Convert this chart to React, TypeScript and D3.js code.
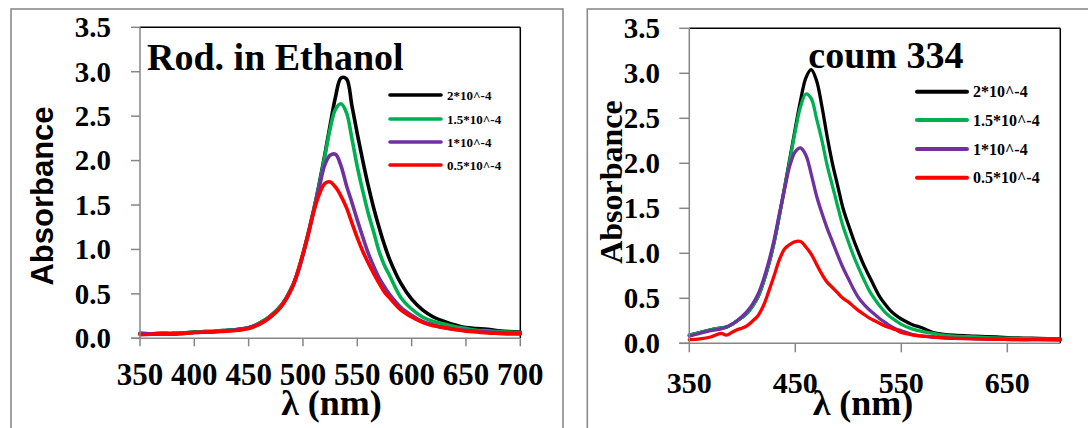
import React from "react";
import * as d3 from "d3";

// ---------- Rhodamine in ethanol ----------
const rodWavelengths = [350, 360, 370, 380, 390, 400, 410, 420, 430, 440, 450, 460, 470, 480, 490, 495, 500, 505, 510, 515, 520, 525, 530, 535, 540, 545, 550, 555, 560, 565, 570, 575, 580, 590, 600, 610, 620, 630, 640, 650, 660, 670, 680, 690, 700];
const rodConc2 = [0.05, 0.05, 0.055, 0.055, 0.06, 0.07, 0.075, 0.08, 0.09, 0.10, 0.12, 0.17, 0.25, 0.37, 0.58, 0.74, 0.95, 1.19, 1.45, 1.74, 2.06, 2.40, 2.72, 2.93, 2.92, 2.62, 2.30, 2.00, 1.72, 1.47, 1.25, 1.05, 0.88, 0.62, 0.44, 0.32, 0.24, 0.19, 0.15, 0.12, 0.11, 0.10, 0.085, 0.075, 0.07];
const rodConc15 = [0.05, 0.05, 0.055, 0.055, 0.06, 0.07, 0.075, 0.08, 0.09, 0.10, 0.12, 0.17, 0.25, 0.37, 0.58, 0.74, 0.95, 1.19, 1.45, 1.73, 2.04, 2.36, 2.58, 2.64, 2.54, 2.25, 1.93, 1.66, 1.41, 1.20, 0.98, 0.82, 0.70, 0.46, 0.33, 0.24, 0.19, 0.16, 0.13, 0.11, 0.09, 0.085, 0.075, 0.07, 0.065];
const rodConc1 = [0.06, 0.05, 0.05, 0.045, 0.055, 0.065, 0.07, 0.075, 0.085, 0.10, 0.12, 0.16, 0.24, 0.36, 0.57, 0.73, 0.94, 1.18, 1.44, 1.70, 1.95, 2.06, 2.07, 1.94, 1.72, 1.53, 1.33, 1.14, 0.96, 0.81, 0.68, 0.58, 0.49, 0.35, 0.26, 0.19, 0.15, 0.12, 0.10, 0.09, 0.08, 0.07, 0.065, 0.06, 0.055];
const rodConc05 = [0.04, 0.045, 0.05, 0.05, 0.055, 0.065, 0.07, 0.075, 0.08, 0.09, 0.11, 0.16, 0.24, 0.36, 0.57, 0.74, 0.95, 1.18, 1.43, 1.62, 1.74, 1.76, 1.70, 1.60, 1.47, 1.30, 1.13, 0.98, 0.85, 0.73, 0.62, 0.52, 0.45, 0.32, 0.24, 0.18, 0.14, 0.12, 0.10, 0.08, 0.07, 0.06, 0.055, 0.05, 0.05];

// ---------- Coumarin 334 ----------
const coumWavelengths = [350, 360, 370, 380, 385, 390, 395, 400, 405, 410, 415, 420, 425, 430, 435, 440, 445, 450, 455, 460, 465, 470, 475, 480, 485, 490, 495, 500, 505, 510, 515, 520, 525, 530, 535, 540, 545, 550, 560, 570, 580, 590, 600, 620, 640, 660, 680, 700];
const coumConc2 = [0.09, 0.12, 0.15, 0.17, 0.18, 0.21, 0.25, 0.29, 0.34, 0.42, 0.52, 0.68, 0.88, 1.12, 1.42, 1.74, 2.06, 2.39, 2.70, 2.95, 3.04, 2.92, 2.64, 2.30, 2.00, 1.75, 1.50, 1.32, 1.15, 1.00, 0.86, 0.74, 0.62, 0.51, 0.43, 0.36, 0.31, 0.27, 0.21, 0.17, 0.12, 0.10, 0.09, 0.08, 0.07, 0.06, 0.055, 0.05];
const coumConc15 = [0.09, 0.12, 0.15, 0.17, 0.18, 0.21, 0.25, 0.29, 0.34, 0.42, 0.52, 0.68, 0.88, 1.12, 1.42, 1.73, 2.04, 2.36, 2.63, 2.77, 2.72, 2.50, 2.26, 1.98, 1.75, 1.52, 1.30, 1.13, 0.97, 0.83, 0.70, 0.58, 0.49, 0.41, 0.34, 0.29, 0.25, 0.21, 0.16, 0.13, 0.11, 0.09, 0.08, 0.07, 0.06, 0.055, 0.05, 0.045];
const coumConc1 = [0.08, 0.11, 0.14, 0.16, 0.18, 0.21, 0.25, 0.30, 0.36, 0.44, 0.55, 0.71, 0.91, 1.15, 1.44, 1.72, 1.98, 2.13, 2.17, 2.09, 1.88, 1.64, 1.45, 1.28, 1.13, 0.98, 0.84, 0.72, 0.60, 0.50, 0.43, 0.37, 0.32, 0.27, 0.23, 0.19, 0.16, 0.14, 0.10, 0.08, 0.07, 0.06, 0.055, 0.05, 0.045, 0.04, 0.04, 0.035];
const coumConc05 = [0.04, 0.05, 0.07, 0.11, 0.09, 0.12, 0.15, 0.17, 0.20, 0.25, 0.31, 0.42, 0.58, 0.75, 0.93, 1.05, 1.10, 1.13, 1.13, 1.07, 0.99, 0.88, 0.77, 0.68, 0.62, 0.56, 0.50, 0.46, 0.41, 0.36, 0.32, 0.28, 0.25, 0.22, 0.19, 0.17, 0.15, 0.12, 0.095, 0.08, 0.07, 0.06, 0.055, 0.05, 0.045, 0.04, 0.04, 0.04];

// ---------- shared labels / ticks ----------
const seriesLabels = ["2*10^-4", "1.5*10^-4", "1*10^-4", "0.5*10^-4"];
const seriesColors = ["#000000", "#00b050", "#7030a0", "#ff0000"];
const yTicks = [0, 0.5, 1.0, 1.5, 2.0, 2.5, 3.0, 3.5];
const rodXTicks = [350, 400, 450, 500, 550, 600, 650, 700];
const coumXTicks = [350, 450, 550, 650];

const SERIF = "'Liberation Serif', 'Times New Roman', serif";
const SANS = "'Liberation Sans', Arial, sans-serif";
const AXIS_GREY = "#868686";

type PanelProps = {
  title: string;
  wavelengths: number[];
  series: number[][];
  xTicks: number[];
  layout: {
    box: [number, number, number, number];
    x: [number, number];
    y: [number, number];
    yTickLen: number;
    xTickLen: number;
    yLabelX: number;
    yLabelSize: number;
    xLabelY: number;
    xLabelSize: number;
    titleX: number;
    titleY: number;
    titleSize: number;
    yTitle: { x: number; y: number; size: number; font: string };
    xTitle: { x: number; y: number; size: number };
    legend: { x0: number; x1: number; tx: number; rows: number[]; size: number; stroke: number };
    lineWidth: number;
  };
};

function Panel({ title, wavelengths, series, xTicks, layout: L }: PanelProps) {
  const x = d3.scaleLinear().domain([350, 700]).range(L.x);
  const y = d3.scaleLinear().domain([0, 3.5]).range(L.y);
  const line = d3
    .line<[number, number]>()
    .x((d) => x(d[0]))
    .y((d) => y(d[1]))
    .curve(d3.curveCatmullRom.alpha(0.5));
  const [bx, by, bw, bh] = L.box;
  return (
    <g>
      <rect x={bx} y={by} width={bw} height={bh} fill="#fff" stroke="#8a8a8a" strokeWidth={1.6} />
      {/* plot frame: top/right dark, axes grey */}
      <line x1={L.x[0]} x2={L.x[1]} y1={L.y[1]} y2={L.y[1]} stroke="#000" strokeWidth={1.5} />
      <line x1={L.x[1]} x2={L.x[1]} y1={L.y[1]} y2={L.y[0]} stroke="#000" strokeWidth={1.5} />
      {series.map((vals, i) => (
        <path
          key={i}
          d={line(wavelengths.map((w, j) => [w, vals[j]] as [number, number])) || ""}
          fill="none"
          stroke={seriesColors[i]}
          strokeWidth={L.lineWidth}
          strokeLinejoin="round"
          strokeLinecap="round"
        />
      ))}
      <line x1={L.x[0]} x2={L.x[0]} y1={L.y[1]} y2={L.y[0]} stroke={AXIS_GREY} strokeWidth={1.5} />
      <line x1={L.x[0] - L.yTickLen} x2={L.x[1]} y1={L.y[0]} y2={L.y[0]} stroke={AXIS_GREY} strokeWidth={1.5} />
      {yTicks.map((t) => (
        <g key={"y" + t}>
          <line x1={L.x[0] - L.yTickLen} x2={L.x[0]} y1={y(t)} y2={y(t)} stroke={AXIS_GREY} strokeWidth={1.5} />
          <text
            x={L.yLabelX}
            y={y(t)}
            dy="0.34em"
            textAnchor="end"
            fontFamily={SERIF}
            fontWeight="bold"
            fontSize={L.yLabelSize}
          >
            {d3.format(".1f")(t)}
          </text>
        </g>
      ))}
      {xTicks.map((t) => (
        <g key={"x" + t}>
          <line x1={x(t)} x2={x(t)} y1={L.y[0]} y2={L.y[0] + L.xTickLen} stroke={AXIS_GREY} strokeWidth={1.5} />
          <text x={x(t)} y={L.xLabelY} textAnchor="middle" fontFamily={SERIF} fontWeight="bold" fontSize={L.xLabelSize}>
            {t}
          </text>
        </g>
      ))}
      <text x={L.titleX} y={L.titleY} fontFamily={SERIF} fontWeight="bold" fontSize={L.titleSize}>
        {title}
      </text>
      <text
        transform={`translate(${L.yTitle.x},${L.yTitle.y}) rotate(-90)`}
        textAnchor="middle"
        fontFamily={L.yTitle.font}
        fontWeight="bold"
        fontSize={L.yTitle.size}
      >
        Absorbance
      </text>
      <text x={L.xTitle.x} y={L.xTitle.y} textAnchor="middle" fontFamily={SERIF} fontWeight="bold" fontSize={L.xTitle.size}>
        λ (nm)
      </text>
      {seriesLabels.map((lab, i) => (
        <g key={lab}>
          <line
            x1={L.legend.x0}
            x2={L.legend.x1}
            y1={L.legend.rows[i]}
            y2={L.legend.rows[i]}
            stroke={seriesColors[i]}
            strokeWidth={L.legend.stroke}
            strokeLinecap="round"
          />
          <text
            x={L.legend.tx}
            y={L.legend.rows[i]}
            dy="0.35em"
            fontFamily={SERIF}
            fontWeight="bold"
            fontSize={L.legend.size}
          >
            {lab}
          </text>
        </g>
      ))}
    </g>
  );
}

export default function App() {
  return (
    <svg
      width={1088}
      height={428}
      viewBox="0 0 1088 428"
      style={{ position: "absolute", left: 0, top: 0, background: "#fff" }}
    >
      <rect width={1088} height={428} fill="#fff" />
      <Panel
        title="Rod. in Ethanol"
        wavelengths={rodWavelengths}
        series={[rodConc2, rodConc15, rodConc1, rodConc05]}
        xTicks={rodXTicks}
        layout={{
          box: [11, 9, 552, 440],
          x: [140, 520.3],
          y: [338.3, 27.3],
          yTickLen: 9,
          xTickLen: 8,
          yLabelX: 111,
          yLabelSize: 29,
          xLabelY: 385,
          xLabelSize: 31,
          titleX: 147,
          titleY: 70,
          titleSize: 38,
          yTitle: { x: 53, y: 196, size: 31, font: SANS },
          xTitle: { x: 331.5, y: 415, size: 36 },
          legend: { x0: 390, x1: 441, tx: 447, rows: [95, 119, 142, 165], size: 13, stroke: 3.6 },
          lineWidth: 3.6,
        }}
      />
      <Panel
        title="coum 334"
        wavelengths={coumWavelengths}
        series={[coumConc2, coumConc15, coumConc1, coumConc05]}
        xTicks={coumXTicks}
        layout={{
          box: [587.3, 9, 520, 440],
          x: [689.3, 1060.3],
          y: [343.3, 28.3],
          yTickLen: 10,
          xTickLen: 9,
          yLabelX: 660,
          yLabelSize: 29,
          xLabelY: 392.7,
          xLabelSize: 30,
          titleX: 808.3,
          titleY: 68.3,
          titleSize: 38,
          yTitle: { x: 621.7, y: 182, size: 32, font: SERIF },
          xTitle: { x: 863, y: 415, size: 36 },
          legend: { x0: 917, x1: 967, tx: 973, rows: [91.7, 120, 149, 177.7], size: 16, stroke: 4 },
          lineWidth: 3.3,
        }}
      />
    </svg>
  );
}
